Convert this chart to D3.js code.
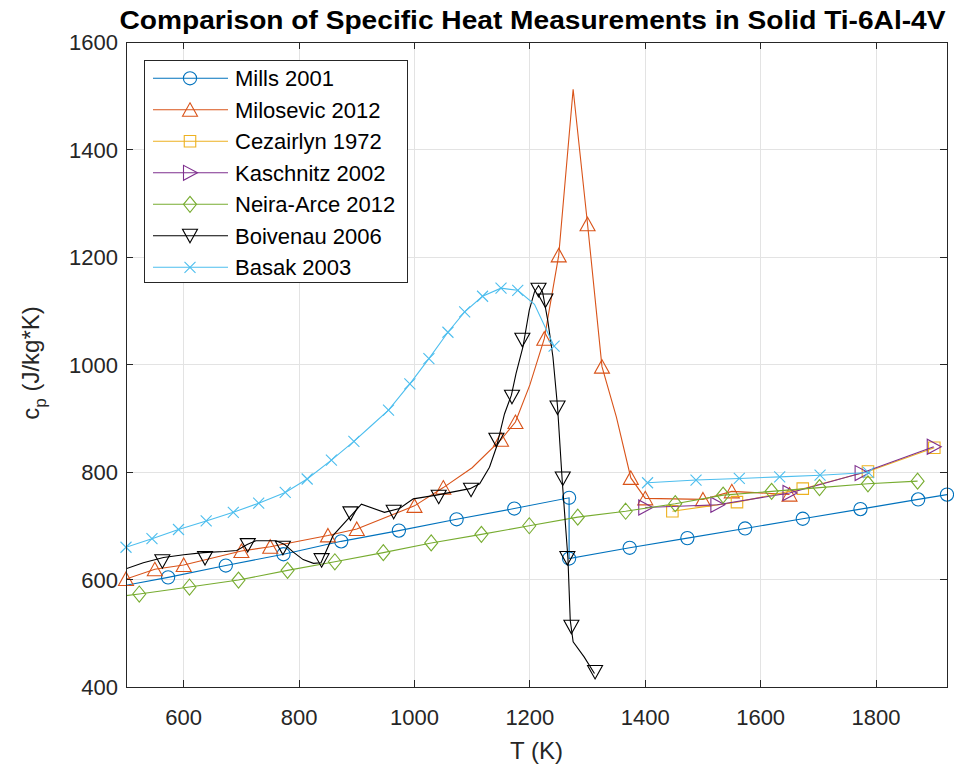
<!DOCTYPE html>
<html>
<head>
<meta charset="utf-8">
<script src="https://cdn.jsdelivr.net/npm/d3@7"></script>
<style>
  html, body { margin: 0; padding: 0; background: #fff; }
  svg { display: block; font-family: "Liberation Sans", Arial, Helvetica, sans-serif; }
</style>
</head>
<body>
<svg id="chart" width="954" height="769"></svg>
<script>
// Temperature (K) and specific heat (J/kg*K) for each data source
const millsT  = [473, 573, 673, 773, 873, 973, 1073, 1173, 1268, 1268, 1373, 1473, 1573, 1673, 1773, 1873, 1923];
const millsCp = [584, 604, 626, 647, 671, 691, 712, 732, 752, 639, 659, 677, 695, 713, 731, 749, 758];

const milosevicT  = [500, 550, 600, 700, 750, 850, 900, 1000, 1050, 1100, 1150, 1175, 1200, 1225, 1250, 1275, 1300, 1325, 1350, 1375, 1400, 1500, 1550, 1650];
const milosevicCp = [601, 619, 627, 653, 661, 682, 694, 737, 771, 808, 860, 893, 962, 1048, 1203, 1512, 1261, 996, 902, 789, 751, 749, 764, 758];
const milosevicMarkT  = [500, 550, 600, 700, 750, 850, 900, 1000, 1050, 1150, 1175, 1225, 1250, 1300, 1325, 1375, 1400, 1500, 1550, 1650];
const milosevicMarkCp = [601, 619, 627, 653, 661, 682, 694, 737, 771, 860, 893, 1048, 1203, 1261, 996, 789, 751, 749, 764, 758];

const cezairlynT  = [1447, 1559, 1673, 1786, 1901];
const cezairlynCp = [727, 744, 769, 801, 845];

const kaschnitzT  = [1400, 1525, 1650, 1775, 1900];
const kaschnitzCp = [734, 739, 761, 798, 847];

const neiraT  = [440, 523, 610, 695, 780, 862, 946, 1029, 1116, 1199, 1283, 1366, 1452, 1535, 1619, 1702, 1786, 1872];
const neiraCp = [562, 573, 586, 599, 617, 633, 650, 668, 684, 700, 716, 727, 741, 757, 764, 771, 778, 783];

const boivenauT  = [500, 530, 565, 600, 634, 670, 692, 710, 725, 760, 775, 790, 807, 825, 838, 859, 908, 948, 974, 998, 1038, 1096, 1113, 1130, 1142, 1156, 1168, 1176, 1188, 1199, 1208, 1215, 1222, 1231, 1240, 1248, 1256, 1266, 1270, 1275, 1294, 1312];
const boivenauCp = [620, 631, 641, 646, 650, 652, 654, 665, 672, 672, 665, 651, 637, 630, 631, 682, 740, 725, 732, 750, 757, 769, 778, 809, 846, 908, 943, 983, 1033, 1101, 1135, 1147, 1135, 1082, 1014, 921, 785, 639, 524, 484, 456, 425];
const boivenauMarkT  = [563, 637, 711, 772, 839, 889, 964, 1042, 1098, 1142, 1169, 1187, 1215, 1227, 1248, 1257, 1265, 1272, 1313];
const boivenauMarkCp = [634, 640, 664, 659, 636, 723, 726, 754, 767, 860, 940, 1046, 1139, 1119, 920, 788, 640, 512, 428];

// NaN splits the two measured ranges
const basakT  = [500, 545, 591, 639, 686, 730, 776, 814, 856, 895, 925, 955, 992, 1025, 1058, 1087, 1118, 1150, 1179, 1208, 1242, NaN, 1404, 1488, 1563, 1633, 1703, 1787];
const basakCp = [660, 676, 693, 709, 725, 742, 762, 787, 822, 857, 886, 915, 964, 1011, 1060, 1098, 1127, 1142, 1138, 1112, 1034, NaN, 780, 785, 788, 791, 794, 799];
const basakMarkT  = [500, 545, 591, 639, 686, 730, 776, 814, 856, 895, 955, 992, 1025, 1058, 1087, 1118, 1150, 1179, 1242, 1404, 1488, 1563, 1633, 1703, 1787];
const basakMarkCp = [660, 676, 693, 709, 725, 742, 762, 787, 822, 857, 915, 964, 1011, 1060, 1098, 1127, 1142, 1138, 1034, 780, 785, 788, 791, 794, 799];

const seriesNames = ["Mills 2001", "Milosevic 2012", "Cezairlyn 1972", "Kaschnitz 2002", "Neira-Arce 2012", "Boivenau 2006", "Basak 2003"];
const seriesColors = ["#0072BD", "#D95319", "#EDB120", "#7E2F8E", "#77AC30", "#000000", "#4DBEEE"];
const seriesMarkers = ["circle", "triUp", "square", "triRight", "diamond", "triDown", "cross"];

const xTicks = [600, 800, 1000, 1200, 1400, 1600, 1800];
const yTicks = [400, 600, 800, 1000, 1200, 1400, 1600];

const titleText = "Comparison of Specific Heat Measurements in Solid Ti-6Al-4V";
const xLabel = "T (K)";

const zip = (xs, ys) => xs.map((x, i) => ({ x, y: ys[i] }));
const series = [
  { line: zip(millsT, millsCp), marks: zip(millsT, millsCp) },
  { line: zip(milosevicT, milosevicCp), marks: zip(milosevicMarkT, milosevicMarkCp) },
  { line: zip(cezairlynT, cezairlynCp), marks: zip(cezairlynT, cezairlynCp) },
  { line: zip(kaschnitzT, kaschnitzCp), marks: zip(kaschnitzT, kaschnitzCp) },
  { line: zip(neiraT, neiraCp), marks: zip(neiraT, neiraCp) },
  { line: zip(boivenauT, boivenauCp), marks: zip(boivenauMarkT, boivenauMarkCp) },
  { line: zip(basakT, basakCp), marks: zip(basakMarkT, basakMarkCp) }
].map((s, i) => ({ ...s, name: seriesNames[i], color: seriesColors[i], marker: seriesMarkers[i] }));

// Layout
const plot = { left: 126, top: 42, right: 947, bottom: 687 };
const axisColor = "#262626";
const gridColor = "#e3e3e3";
const fontSize = 22;
const labelSize = 24;

const svg = d3.select("#chart");
const x = d3.scaleLinear().domain([500, 1923]).range([plot.left, plot.right]);
const y = d3.scaleLinear().domain([400, 1600]).range([plot.bottom, plot.top]);

// Grid
const grid = svg.append("g");
grid.selectAll("line.gx").data(xTicks).join("line")
  .attr("x1", d => x(d)).attr("x2", d => x(d))
  .attr("y1", plot.top).attr("y2", plot.bottom)
  .attr("stroke", gridColor).attr("stroke-width", 1).attr("shape-rendering", "crispEdges");
grid.selectAll("line.gy").data(yTicks).join("line")
  .attr("y1", d => y(d)).attr("y2", d => y(d))
  .attr("x1", plot.left).attr("x2", plot.right)
  .attr("stroke", gridColor).attr("stroke-width", 1).attr("shape-rendering", "crispEdges");

// Clip region for data lines
svg.append("defs").append("clipPath").attr("id", "plotClip")
  .append("rect")
  .attr("x", plot.left).attr("y", plot.top)
  .attr("width", plot.right - plot.left).attr("height", plot.bottom - plot.top);

const lineGen = d3.line()
  .defined(d => !isNaN(d.x) && !isNaN(d.y))
  .x(d => x(d.x)).y(d => y(d.y));

const markerPaths = {
  triUp: "M0,-7 L7.5,6.5 L-7.5,6.5 Z",
  triDown: "M0,7 L7.5,-6.5 L-7.5,-6.5 Z",
  triRight: "M7.5,0 L-6.5,-7.5 L-6.5,7.5 Z",
  diamond: "M0,-8 L6.5,0 L0,8 L-6.5,0 Z",
  square: "M-5.75,-5.75 L5.75,-5.75 L5.75,5.75 L-5.75,5.75 Z",
  cross: "M-5.5,-5.5 L5.5,5.5 M-5.5,5.5 L5.5,-5.5"
};

function drawMarker(g, shape, cx, cy, color) {
  if (shape === "circle") {
    g.append("circle").attr("cx", cx).attr("cy", cy).attr("r", 6.6)
      .attr("fill", "none").attr("stroke", color).attr("stroke-width", 1.1);
  } else {
    g.append("path").attr("d", markerPaths[shape])
      .attr("transform", `translate(${cx},${cy})`)
      .attr("fill", "none").attr("stroke", color).attr("stroke-width", 1.1)
      .attr("stroke-linejoin", "miter");
  }
}

const dataG = svg.append("g");
series.forEach(s => {
  dataG.append("path")
    .attr("d", lineGen(s.line))
    .attr("clip-path", "url(#plotClip)")
    .attr("fill", "none").attr("stroke", s.color).attr("stroke-width", 1.1);
  const mg = dataG.append("g");
  s.marks
    .filter(d => d.x >= x.domain()[0] && d.x <= x.domain()[1] && d.y >= y.domain()[0] && d.y <= y.domain()[1])
    .forEach(d => drawMarker(mg, s.marker, x(d.x), y(d.y), s.color));
});

// Axes: box with inward ticks on all four sides
const tickLen = 7;
const axisG = svg.append("g").attr("stroke", axisColor).attr("stroke-width", 1).attr("shape-rendering", "crispEdges");
axisG.append("rect")
  .attr("x", plot.left).attr("y", plot.top)
  .attr("width", plot.right - plot.left).attr("height", plot.bottom - plot.top)
  .attr("fill", "none");
xTicks.forEach(t => {
  axisG.append("line").attr("x1", x(t)).attr("x2", x(t)).attr("y1", plot.bottom).attr("y2", plot.bottom - tickLen);
  axisG.append("line").attr("x1", x(t)).attr("x2", x(t)).attr("y1", plot.top).attr("y2", plot.top + tickLen);
});
yTicks.forEach(t => {
  axisG.append("line").attr("y1", y(t)).attr("y2", y(t)).attr("x1", plot.left).attr("x2", plot.left + tickLen);
  axisG.append("line").attr("y1", y(t)).attr("y2", y(t)).attr("x1", plot.right).attr("x2", plot.right - tickLen);
});

// Tick labels
svg.append("g").selectAll("text").data(xTicks).join("text")
  .attr("x", d => x(d)).attr("y", plot.bottom + 38)
  .attr("text-anchor", "middle").attr("font-size", fontSize).attr("fill", axisColor)
  .text(d => d);
svg.append("g").selectAll("text").data(yTicks).join("text")
  .attr("x", plot.left - 8).attr("y", d => y(d) + 8)
  .attr("text-anchor", "end").attr("font-size", fontSize).attr("fill", axisColor)
  .text(d => d);

// Axis labels
svg.append("text")
  .attr("x", (plot.left + plot.right) / 2).attr("y", plot.bottom + 72)
  .attr("text-anchor", "middle").attr("font-size", labelSize).attr("fill", axisColor)
  .text(xLabel);

const yl = svg.append("text")
  .attr("transform", `translate(39,${363}) rotate(-90)`)
  .attr("text-anchor", "middle").attr("font-size", labelSize).attr("fill", axisColor);
yl.append("tspan").text("c");
yl.append("tspan").attr("font-size", 17).attr("dy", 7).text("p");
yl.append("tspan").attr("dy", -7).text(" (J/kg*K)");

// Title
svg.append("text")
  .attr("x", (plot.left + plot.right) / 2 - 4).attr("y", 29)
  .attr("text-anchor", "middle").attr("font-size", 25).attr("font-weight", "bold").attr("fill", "#000")
  .attr("textLength", 826).attr("lengthAdjust", "spacingAndGlyphs")
  .text(titleText);

// Legend
const leg = { x: 144, y: 60, w: 263, h: 222, row0: 78.3, rowStep: 31.5 };
const legG = svg.append("g");
legG.append("rect")
  .attr("x", leg.x).attr("y", leg.y).attr("width", leg.w).attr("height", leg.h)
  .attr("fill", "#fff").attr("stroke", axisColor).attr("stroke-width", 1).attr("shape-rendering", "crispEdges");
series.forEach((s, i) => {
  const ry = leg.row0 + i * leg.rowStep;
  legG.append("line").attr("x1", leg.x + 9).attr("x2", leg.x + 84).attr("y1", ry).attr("y2", ry)
    .attr("stroke", s.color).attr("stroke-width", 1.1);
  drawMarker(legG, s.marker, leg.x + 46, ry, s.color);
  legG.append("text").attr("x", leg.x + 91).attr("y", ry + 8)
    .attr("font-size", fontSize).attr("fill", "#000").text(s.name);
});
</script>
</body>
</html>
